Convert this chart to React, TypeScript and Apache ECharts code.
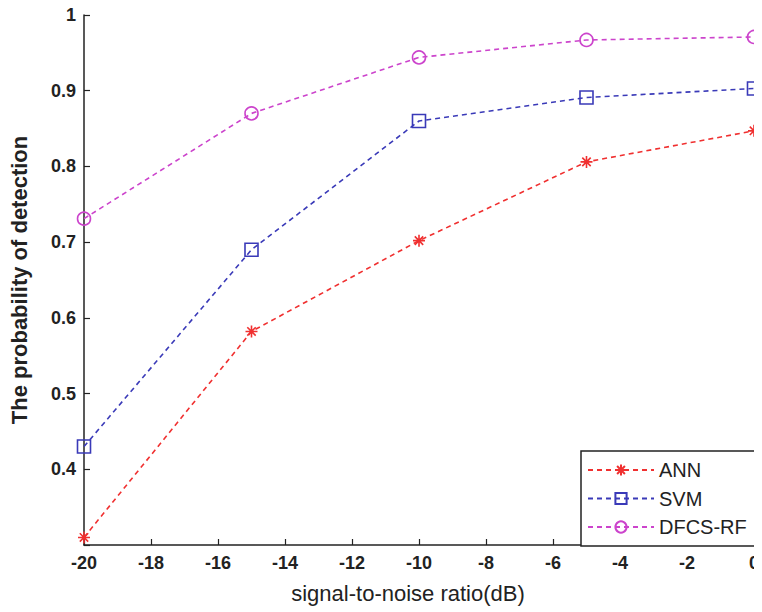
import React, { useEffect, useRef } from "react";
import * as echarts from "echarts";

const snr = [-20, -15, -10, -5, 0];
const ann = [0.31, 0.582, 0.702, 0.806, 0.847];
const svm = [0.43, 0.69, 0.86, 0.891, 0.903];
const dfcs = [0.731, 0.87, 0.944, 0.967, 0.971];
const seriesNames = ["ANN", "SVM", "DFCS-RF"];

const STAR = "path://M0,-10L0,10M-10,0L10,0M-7,-7L7,7M-7,7L7,-7";

export default function App() {
  const ref = useRef<HTMLDivElement>(null);
  useEffect(() => {
    if (!ref.current) return;
    const chart = echarts.init(ref.current, undefined, { renderer: "svg" });
    const font = "Liberation Sans, Arial, sans-serif";
    const mk = (name: string, data: number[], color: string, symbol: string, size: number) => ({
      name,
      type: "line",
      data: snr.map((x, i) => [x, data[i]]),
      symbol,
      symbolSize: size,
      showAllSymbol: true,
      lineStyle: { color, width: 1.6, type: [5, 4] },
      itemStyle: { color: "transparent", borderColor: color, borderWidth: 1.6 },
    });
    chart.setOption({
      animation: false,
      textStyle: { fontFamily: font },
      grid: { left: 83, right: 6, top: 15, bottom: 67, containLabel: false },
      xAxis: {
        type: "value",
        min: -20,
        max: 0,
        interval: 2,
        name: "signal-to-noise ratio(dB)",
        nameLocation: "middle",
        nameGap: 37,
        nameTextStyle: { fontSize: 22, color: "#222", fontFamily: font, padding: [0, 22, 0, 0] },
        axisLine: { onZero: false, lineStyle: { color: "#222", width: 1.5 } },
        axisTick: { inside: true, length: 6, lineStyle: { color: "#222", width: 1.2 } },
        axisLabel: { fontSize: 18, fontWeight: "bold", color: "#222", margin: 9, fontFamily: font },
        splitLine: { show: false },
      },
      yAxis: {
        type: "value",
        min: 0.3,
        max: 1,
        interval: 0.1,
        name: "The probability of detection",
        nameLocation: "middle",
        nameGap: 54,
        nameTextStyle: { fontSize: 22, fontWeight: "bold", color: "#222", fontFamily: font },
        axisLine: { show: true, onZero: false, lineStyle: { color: "#222", width: 1.5 } },
        axisTick: { show: true, inside: true, length: 6, lineStyle: { color: "#222", width: 1.2 } },
        axisLabel: {
          fontSize: 18,
          fontWeight: "bold",
          color: "#222",
          margin: 8,
          fontFamily: font,
          formatter: (v: number) => (v < 0.35 ? "" : String(Math.round(v * 10) / 10)),
        },
        splitLine: { show: false },
      },
      legend: {
        orient: "vertical",
        left: 581,
        top: 451,
        data: seriesNames,
        backgroundColor: "#fff",
        borderColor: "#222",
        borderWidth: 1.5,
        borderRadius: 0,
        padding: [9, 20, 9, 6],
        itemWidth: 66,
        itemHeight: 14,
        itemGap: 8.5,
        textStyle: { fontSize: 20, color: "#222", fontFamily: font },
      },
      series: [
        mk(seriesNames[0], ann, "#f03030", STAR, 12),
        mk(seriesNames[1], svm, "#3a3ab8", "rect", 13),
        mk(seriesNames[2], dfcs, "#cc44cc", "circle", 13),
      ],
    });
    return () => chart.dispose();
  }, []);
  return <div ref={ref} style={{ width: 762, height: 612, marginLeft: -8, marginTop: -8 }} />;
}
